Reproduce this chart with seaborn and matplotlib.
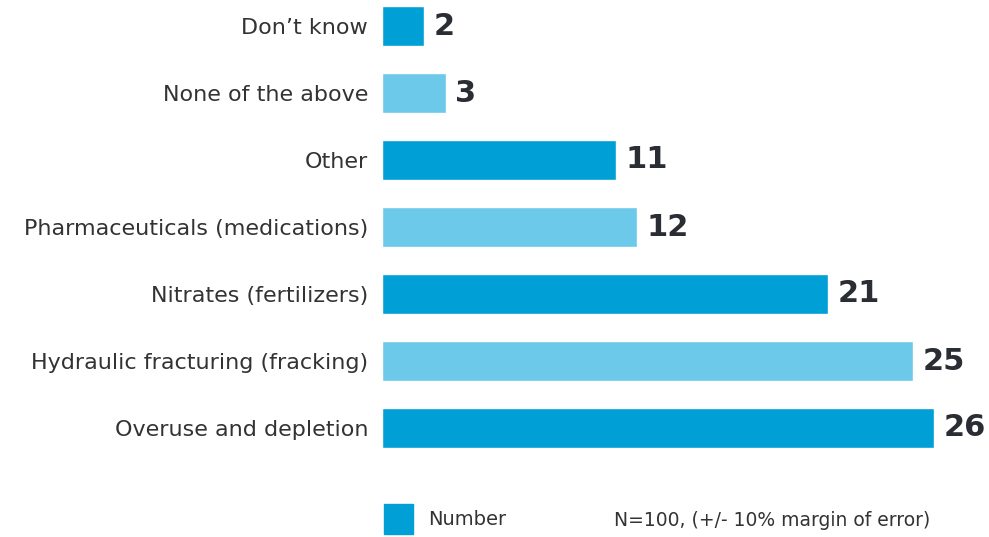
import matplotlib
matplotlib.use("Agg")
import matplotlib.pyplot as plt
from matplotlib.patches import Patch
import seaborn as sns
import pandas as pd

categories = [
    "Don\u2019t know",
    "None of the above",
    "Other",
    "Pharmaceuticals (medications)",
    "Nitrates (fertilizers)",
    "Hydraulic fracturing (fracking)",
    "Overuse and depletion",
]
values = [2, 3, 11, 12, 21, 25, 26]
dark_blue = "#009fd6"
light_blue = "#6cc9e9"
bar_colors = [dark_blue, light_blue, dark_blue, light_blue, dark_blue, light_blue, dark_blue]
legend_label = "Number"
note = "N=100, (+/- 10% margin of error)"

df = pd.DataFrame({"category": categories, "value": values})

sns.set_style("white")
plt.rcParams["font.family"] = ["DejaVu Sans"]

fig = plt.figure(figsize=(9.89, 5.37), dpi=100)
ax = fig.add_axes([382 / 989, 1 - 470 / 537, 1 - 382 / 989, 470 / 537])

sns.barplot(data=df, x="value", y="category", hue="category",
            palette=bar_colors, width=0.6, legend=False, ax=ax, saturation=1)

ax.set_xlim(0, 607 / 21.23)
ax.set_ylim(6 + 42 / 67, -26 / 67)
for i, v in enumerate(values):
    ax.text(v + 0.45, i, str(v), va="center", ha="left", fontsize=22,
            fontweight="bold", color="#2b2d35")

ax.set_xlabel("")
ax.set_ylabel("")
ax.set_xticks([])
ax.tick_params(axis="y", length=0, pad=10, labelsize=16, labelcolor="#333333")
sns.despine(ax=ax, left=True, bottom=True, top=True, right=True)

fig.legend(handles=[Patch(color=dark_blue, label=legend_label)],
           loc="center left", bbox_to_anchor=(366 / 989, 1 - 519 / 537),
           frameon=False, fontsize=14, handlelength=1.5, handleheight=2.0,
           handletextpad=0.8, labelcolor="#333333")
fig.text(614 / 989, 1 - 520 / 537, note, ha="left", va="center",
         fontsize=13.5, color="#333333")

plt.savefig("out.png", dpi=100)
plt.close()
